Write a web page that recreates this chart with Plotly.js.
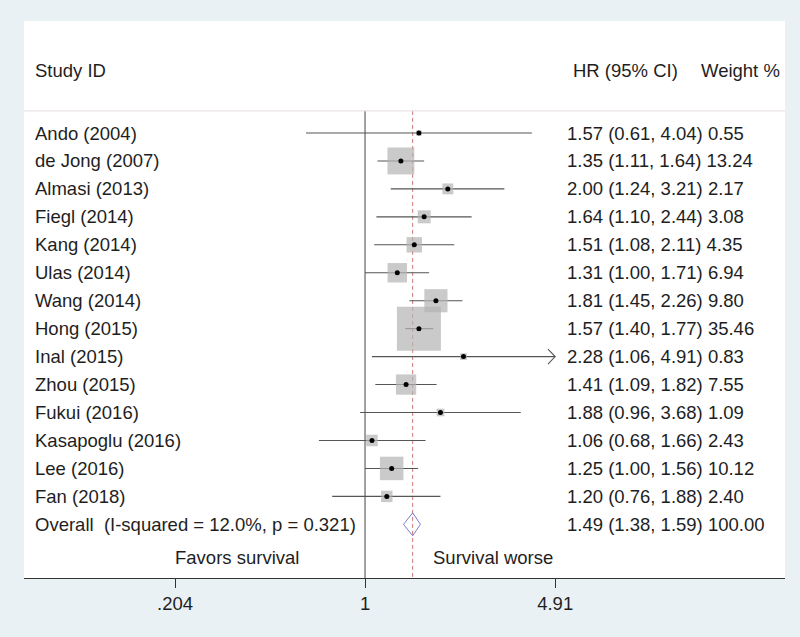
<!DOCTYPE html>
<html>
<head>
<meta charset="utf-8">
<script src="https://cdn.plot.ly/plotly-3.0.1.min.js"></script>
<style>html,body{margin:0;padding:0;background:#eaf1f5;}#chart{width:800px;height:637px;}</style>
</head>
<body>
<div id="chart"></div>
<script>
const studies = ["Ando (2004)","de Jong (2007)","Almasi (2013)","Fiegl (2014)","Kang (2014)","Ulas (2014)","Wang (2014)","Hong (2015)","Inal (2015)","Zhou (2015)","Fukui (2016)","Kasapoglu (2016)","Lee (2016)","Fan (2018)"];
const hr     = [1.57,1.35,2.00,1.64,1.51,1.31,1.81,1.57,2.28,1.41,1.88,1.06,1.25,1.20];
const lo     = [0.61,1.11,1.24,1.10,1.08,1.00,1.45,1.40,1.06,1.09,0.96,0.68,1.00,0.76];
const hi     = [4.04,1.64,3.21,2.44,2.11,1.71,2.26,1.77,4.91,1.82,3.68,1.66,1.56,1.88];
const weight = [0.55,13.24,2.17,3.08,4.35,6.94,9.80,35.46,0.83,7.55,1.09,2.43,10.12,2.40];
const overallLabel = "Overall  (I-squared = 12.0%, p = 0.321)";
const overall = {hr:1.49, lo:1.38, hi:1.59, weight:100.00};
const arrowStudies = ["Inal (2015)"];
const tickVals = [0.204, 1, 4.91];
const tickText = [".204", "1", "4.91"];

const FONT = "Liberation Sans, Arial, sans-serif";
const FS = 18.5;
const TXT = "#1e1e1e";
const n = studies.length;
const rows = studies.map((s,i)=>i);
const overallRow = n;

const traces = [];
// null line
traces.push({x:[1,1], y:[-0.79, 15.92], mode:"lines", line:{color:"#444", width:1}, hoverinfo:"skip", showlegend:false});
// overall dashed line
traces.push({x:[overall.hr, overall.hr], y:[-0.79, 15.92], mode:"lines", line:{color:"#c77", width:1, dash:"4px,3px"}, hoverinfo:"skip", showlegend:false});
// CI lines
const cx = [], cy = [];
studies.forEach((s,i)=>{ cx.push(lo[i], hi[i], null); cy.push(i, i, null); });
traces.push({x:cx, y:cy, mode:"lines", line:{color:"#555", width:1.1}, hoverinfo:"skip", showlegend:false});
// weight squares
traces.push({x:hr, y:rows, mode:"markers", marker:{symbol:"square", color:"#b3b3b3", size:weight.map(w=>44*Math.sqrt(w/35.46)), line:{width:0}}, hoverinfo:"skip", showlegend:false});
// point estimates
traces.push({x:hr, y:rows, mode:"markers", marker:{symbol:"circle", color:"#000", size:5}, hoverinfo:"skip", showlegend:false});
// arrows for truncated CIs
const ax = [], ay = [];
studies.forEach((s,i)=>{ if(arrowStudies.includes(s)){ ax.push(hi[i]/1.062, hi[i], hi[i]/1.062, null); ay.push(i-0.27, i, i+0.27, null);} });
traces.push({x:ax, y:ay, mode:"lines", line:{color:"#555", width:1.1}, hoverinfo:"skip", showlegend:false});
// diamond
traces.push({x:[overall.lo, overall.hr, overall.hi, overall.hr, overall.lo], y:[overallRow, overallRow-0.41, overallRow, overallRow+0.41, overallRow], mode:"lines", line:{color:"#7b7bd0", width:1}, hoverinfo:"skip", showlegend:false});

const xL = 0.0118, xR = 0.7109;
const annotations = [];
annotations.push({xref:"paper", yref:"y", x:xL, y:-2.25, text:"Study ID", showarrow:false, xanchor:"left", yanchor:"middle", font:{family:FONT,size:FS,color:TXT}});
annotations.push({xref:"paper", yref:"y", x:0.7188, y:-2.25, text:"HR (95% CI)", showarrow:false, xanchor:"left", yanchor:"middle", font:{family:FONT,size:FS,color:TXT}});
annotations.push({xref:"paper", yref:"y", x:0.887, y:-2.25, text:"Weight %", showarrow:false, xanchor:"left", yanchor:"middle", font:{family:FONT,size:FS,color:TXT}});
studies.forEach((s,i)=>{
  annotations.push({xref:"paper", yref:"y", x:xL, y:i, text:s, showarrow:false, xanchor:"left", yanchor:"middle", font:{family:FONT,size:FS,color:TXT}});
  annotations.push({xref:"paper", yref:"y", x:xR, y:i, text:hr[i].toFixed(2)+" ("+lo[i].toFixed(2)+", "+hi[i].toFixed(2)+") "+weight[i].toFixed(2), showarrow:false, xanchor:"left", yanchor:"middle", font:{family:FONT,size:FS,color:TXT}});
});
annotations.push({xref:"paper", yref:"y", x:xL, y:overallRow, text:overallLabel, showarrow:false, xanchor:"left", yanchor:"middle", font:{family:FONT,size:FS,color:TXT}});
annotations.push({xref:"paper", yref:"y", x:xR, y:overallRow, text:overall.hr.toFixed(2)+" ("+overall.lo.toFixed(2)+", "+overall.hi.toFixed(2)+") "+overall.weight.toFixed(2), showarrow:false, xanchor:"left", yanchor:"middle", font:{family:FONT,size:FS,color:TXT}});
annotations.push({xref:"paper", yref:"y", x:0.2799, y:15.17, text:"Favors survival", showarrow:false, xanchor:"center", yanchor:"middle", font:{family:FONT,size:FS,color:TXT}});
annotations.push({xref:"paper", yref:"y", x:0.6163, y:15.17, text:"Survival worse", showarrow:false, xanchor:"center", yanchor:"middle", font:{family:FONT,size:FS,color:TXT}});

const layout = {
  width:800, height:637,
  margin:{l:24, r:15, t:21, b:59, pad:0},
  paper_bgcolor:"#eaf1f5", plot_bgcolor:"#ffffff",
  showlegend:false,
  xaxis:{type:"log", range:[-1.2394, 1.5264], tickvals:tickVals, ticktext:tickText, showgrid:false, zeroline:false,
         showline:true, linecolor:"#333", linewidth:1, ticks:"outside", ticklen:9, tickcolor:"#333", tickwidth:1,
         tickfont:{family:FONT, size:FS, color:TXT}, fixedrange:true},
  yaxis:{range:[15.92, -4.007], visible:false, showgrid:false, zeroline:false, fixedrange:true},
  shapes:[{type:"line", xref:"paper", yref:"y", x0:0, x1:1, y0:-0.79, y1:-0.79, line:{color:"#e6dcdc", width:1}}],
  annotations:annotations
};
Plotly.newPlot("chart", traces, layout, {displayModeBar:false, staticPlot:true});
</script>
</body>
</html>
